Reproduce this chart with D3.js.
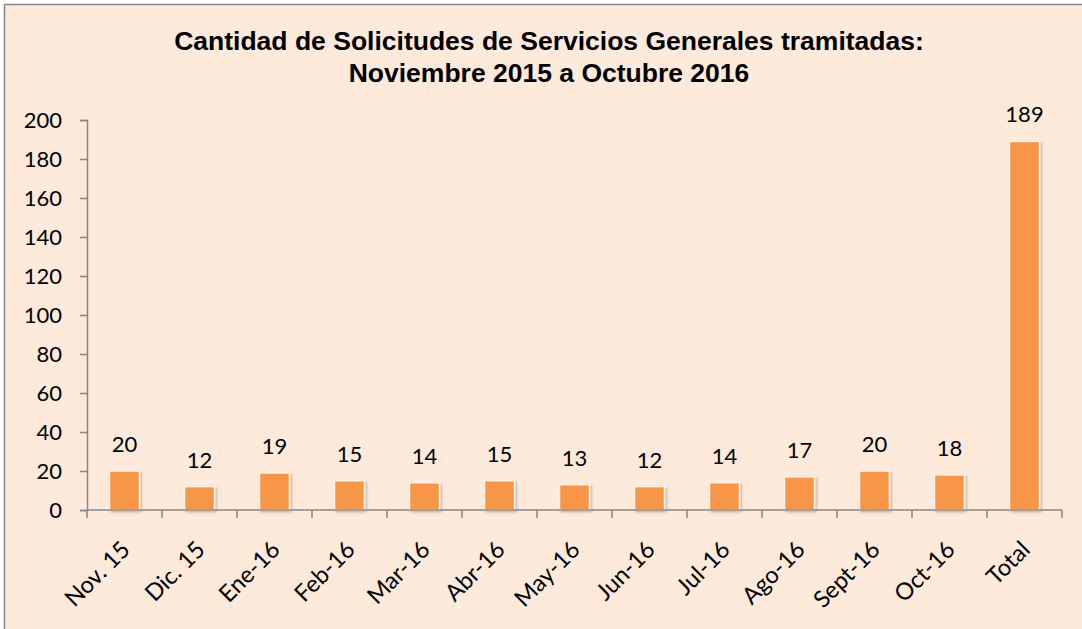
<!DOCTYPE html>
<html>
<head>
<meta charset="utf-8">
<style>
    body { margin: 0; background: #fff; }
    svg { display: block; }
    .axis .domain { stroke: #868686; stroke-width: 1.5; }
    .axis .tick line { stroke: #868686; stroke-width: 1.5; }
    .axis .tick text { font-family: Lato, "Open Sans", sans-serif; font-size: 22px; fill: #000; }
</style>
</head>
<body>
<svg width="1082" height="629"></svg>

<script src="https://d3js.org/d3.v7.min.js"></script>
<script>
    // data
    let months = ["Nov. 15", "Dic. 15", "Ene-16", "Feb-16", "Mar-16", "Abr-16", "May-16",
        "Jun-16", "Jul-16", "Ago-16", "Sept-16", "Oct-16", "Total"];
    let counts = [20, 12, 19, 15, 14, 15, 13, 12, 14, 17, 20, 18, 189];
    let yTicks = [0, 20, 40, 60, 80, 100, 120, 140, 160, 180, 200];

    let data = months.map((m, i) => ({ month: m, value: counts[i] }));

    let svg = d3.select("svg");

    // chart area background + border
    svg.append("rect")
        .attr("x", 4.5).attr("y", 4.5)
        .attr("width", 1090).attr("height", 640)
        .style("fill", "#FDEADA")
        .style("stroke", "#868686")
        .style("stroke-width", 1.5);

    let defs = svg.append("defs");
    let f = defs.append("filter").attr("id", "shadow")
        .attr("x", "-20%").attr("y", "-20%").attr("width", "150%").attr("height", "150%");
    f.append("feDropShadow")
        .attr("dx", 1.5).attr("dy", 1.5).attr("stdDeviation", 1.2)
        .attr("flood-color", "#000").attr("flood-opacity", 0.25);

    let x = d3.scaleBand()
        .domain(months)
        .range([87, 1062])
        .paddingInner(0.6)
        .paddingOuter(0.3);

    let y = d3.scaleLinear()
        .domain([0, 200])
        .range([510, 120]);

    // title
    let title = svg.append("text")
        .attr("x", 549)
        .attr("y", 50)
        .style("text-anchor", "middle")
        .style("font-family", "Liberation Sans, Arial, sans-serif")
        .style("font-weight", "bold")
        .style("font-size", "26.5px")
        .style("fill", "#000");
    title.append("tspan").attr("x", 549).attr("dy", 0)
        .text("Cantidad de Solicitudes de Servicios Generales tramitadas:");
    title.append("tspan").attr("x", 549).attr("dy", 32)
        .text("Noviembre 2015 a Octubre 2016");

    // y axis
    svg.append("g")
        .attr("class", "y axis")
        .attr("transform", "translate(87,0)")
        .call(d3.axisLeft(y).tickValues(yTicks).tickSize(7).tickPadding(18).tickSizeOuter(7));

    // bars
    svg.append("g")
        .selectAll("rect")
        .data(data)
        .join("rect")
        .attr("x", d => x(d.month))
        .attr("y", d => y(d.value))
        .attr("width", x.bandwidth())
        .attr("height", d => y(0) - y(d.value))
        .attr("filter", "url(#shadow)")
        .style("fill", "#F79646")
        .style("stroke", "#FEF4EC")
        .style("stroke-width", 1.5);

    // value labels
    svg.append("g")
        .selectAll("text")
        .data(data)
        .join("text")
        .attr("x", d => x(d.month) + x.bandwidth() / 2)
        .attr("y", d => y(d.value) - 19)
        .style("text-anchor", "middle")
        .style("font-family", "Lato, 'Open Sans', sans-serif")
        .style("font-size", "22px")
        .style("fill", "#000")
        .text(d => d.value);

    // x axis: ticks at band boundaries
    let xAxis = svg.append("g")
        .attr("class", "x axis")
        .attr("transform", "translate(0,510)");
    xAxis.append("line")
        .attr("x1", 87).attr("x2", 1062)
        .style("stroke", "#868686").style("stroke-width", 1.5);
    let step = x.step();
    xAxis.selectAll(".sep")
        .data(d3.range(months.length + 1))
        .join("line")
        .attr("class", "sep")
        .attr("x1", i => 87 + i * step)
        .attr("x2", i => 87 + i * step)
        .attr("y1", 0).attr("y2", 8)
        .style("stroke", "#868686").style("stroke-width", 1.5);
    xAxis.selectAll(".lbl")
        .data(months)
        .join("text")
        .attr("class", "lbl")
        .attr("transform", d => `translate(${x(d) + x.bandwidth() / 2 + 7},${41}) rotate(-45)`)
        .style("text-anchor", "end")
        .style("font-family", "Lato, 'Open Sans', sans-serif")
        .style("font-size", "23.5px")
        .style("fill", "#000")
        .text(d => d);
</script>
</body>
</html>
